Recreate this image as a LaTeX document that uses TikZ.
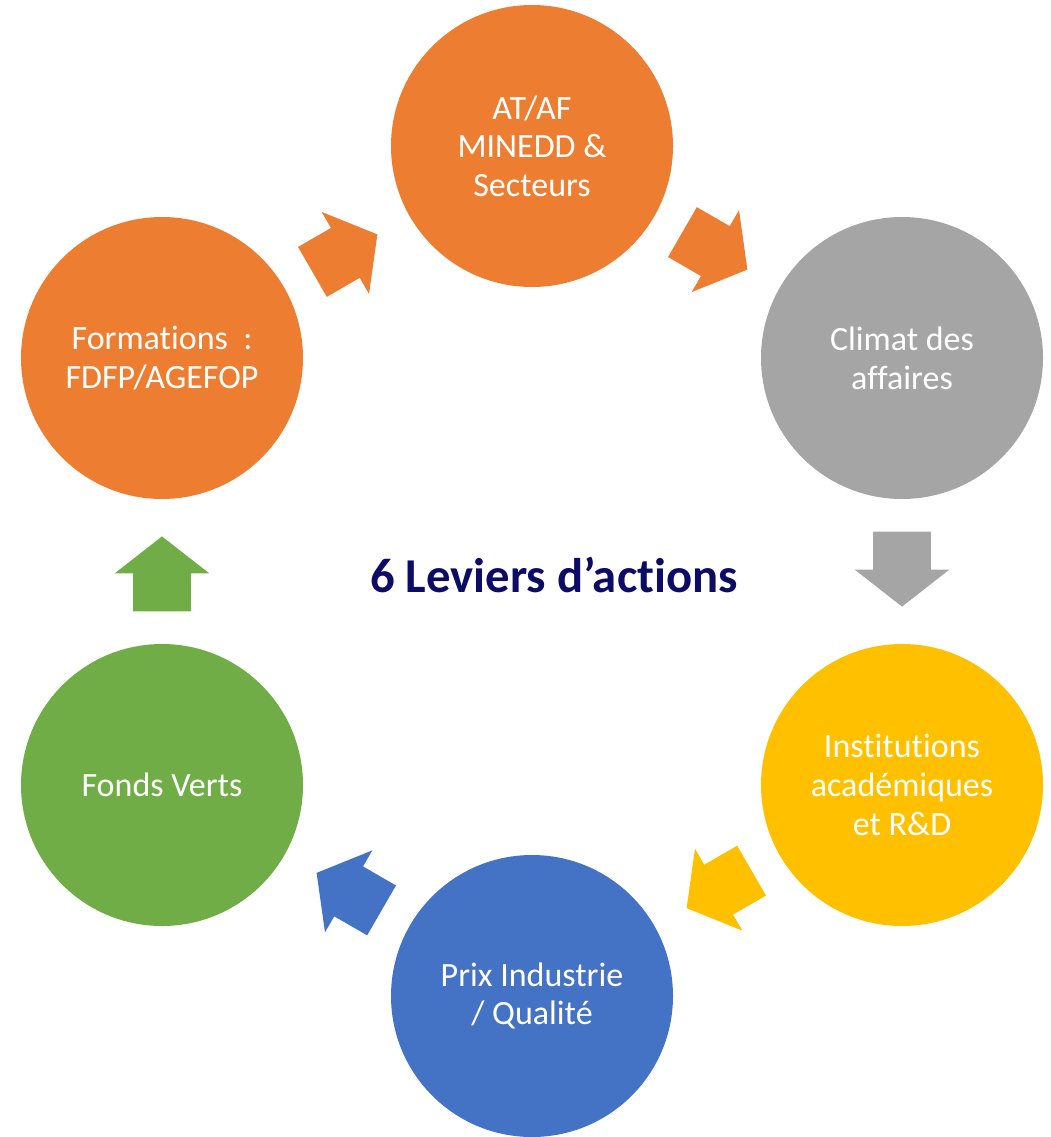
\documentclass[tikz,border=0pt]{standalone}
\usepackage{fontspec}
\setmainfont{Carlito}[Ligatures={NoCommon}]
\usetikzlibrary{shapes.arrows,calc}
\definecolor{levorange}{RGB}{237,125,49}
\definecolor{levgray}{RGB}{165,165,165}
\definecolor{levyellow}{RGB}{255,192,0}
\definecolor{levblue}{RGB}{68,114,196}
\definecolor{levgreen}{RGB}{112,173,71}
\definecolor{levnavy}{RGB}{12,12,102}
\begin{document}
\begin{tikzpicture}[x=0.75pt,y=0.75pt,yscale=-1,xscale=1,
  lever/.style={circle,minimum size=211.5pt,inner sep=0pt,text=white,align=center,
    font=\fontsize{25.5}{29}\selectfont},
  levarrow/.style={single arrow,draw=none,inner xsep=0pt,inner ysep=21.4pt,
    minimum height=56.25pt,single arrow head extend=13.9pt,single arrow tip angle=104}]
\useasboundingbox (0,0) rectangle (1050,1137);
%Circles
\node [lever,fill=levorange] (atf) at (532,146) {AT/AF\\MINEDD \&\\Secteurs};
\node [lever,fill=levgray] (climat) at (902,358) {Climat des\\affaires};
\node [lever,fill=levyellow] (instit) at (902,785) {Institutions\\académiques\\et R\&D};
\node [lever,fill=levblue] (prix) at (532,996) {Prix Industrie\\/ Qualité};
\node [lever,fill=levgreen] (fonds) at (162,785) {Fonds Verts};
\node [lever,fill=levorange] (form) at (162,358) {Formations~~:\\FDFP/AGEFOP};
%Block arrows
\node [levarrow,fill=levorange,rotate=30] (a1) at ($(form)!0.468!(atf)$) {};
\node [levarrow,fill=levorange,rotate=-30] (a2) at ($(atf)!0.468!(climat)$) {};
\node [levarrow,fill=levgray,rotate=-90] (a3) at ($(climat)!0.468!(instit)$) {};
\node [levarrow,fill=levyellow,rotate=-150] (a4) at ($(instit)!0.468!(prix)$) {};
\node [levarrow,fill=levblue,rotate=150] (a5) at ($(prix)!0.468!(fonds)$) {};
\node [levarrow,fill=levgreen,rotate=90] (a6) at ($(fonds)!0.468!(form)$) {};
% Title
\node [text=levnavy,font=\fontsize{36.5}{44}\bfseries\selectfont] (title) at (554,575) {6 Leviers d’actions};
\end{tikzpicture}
\end{document}
